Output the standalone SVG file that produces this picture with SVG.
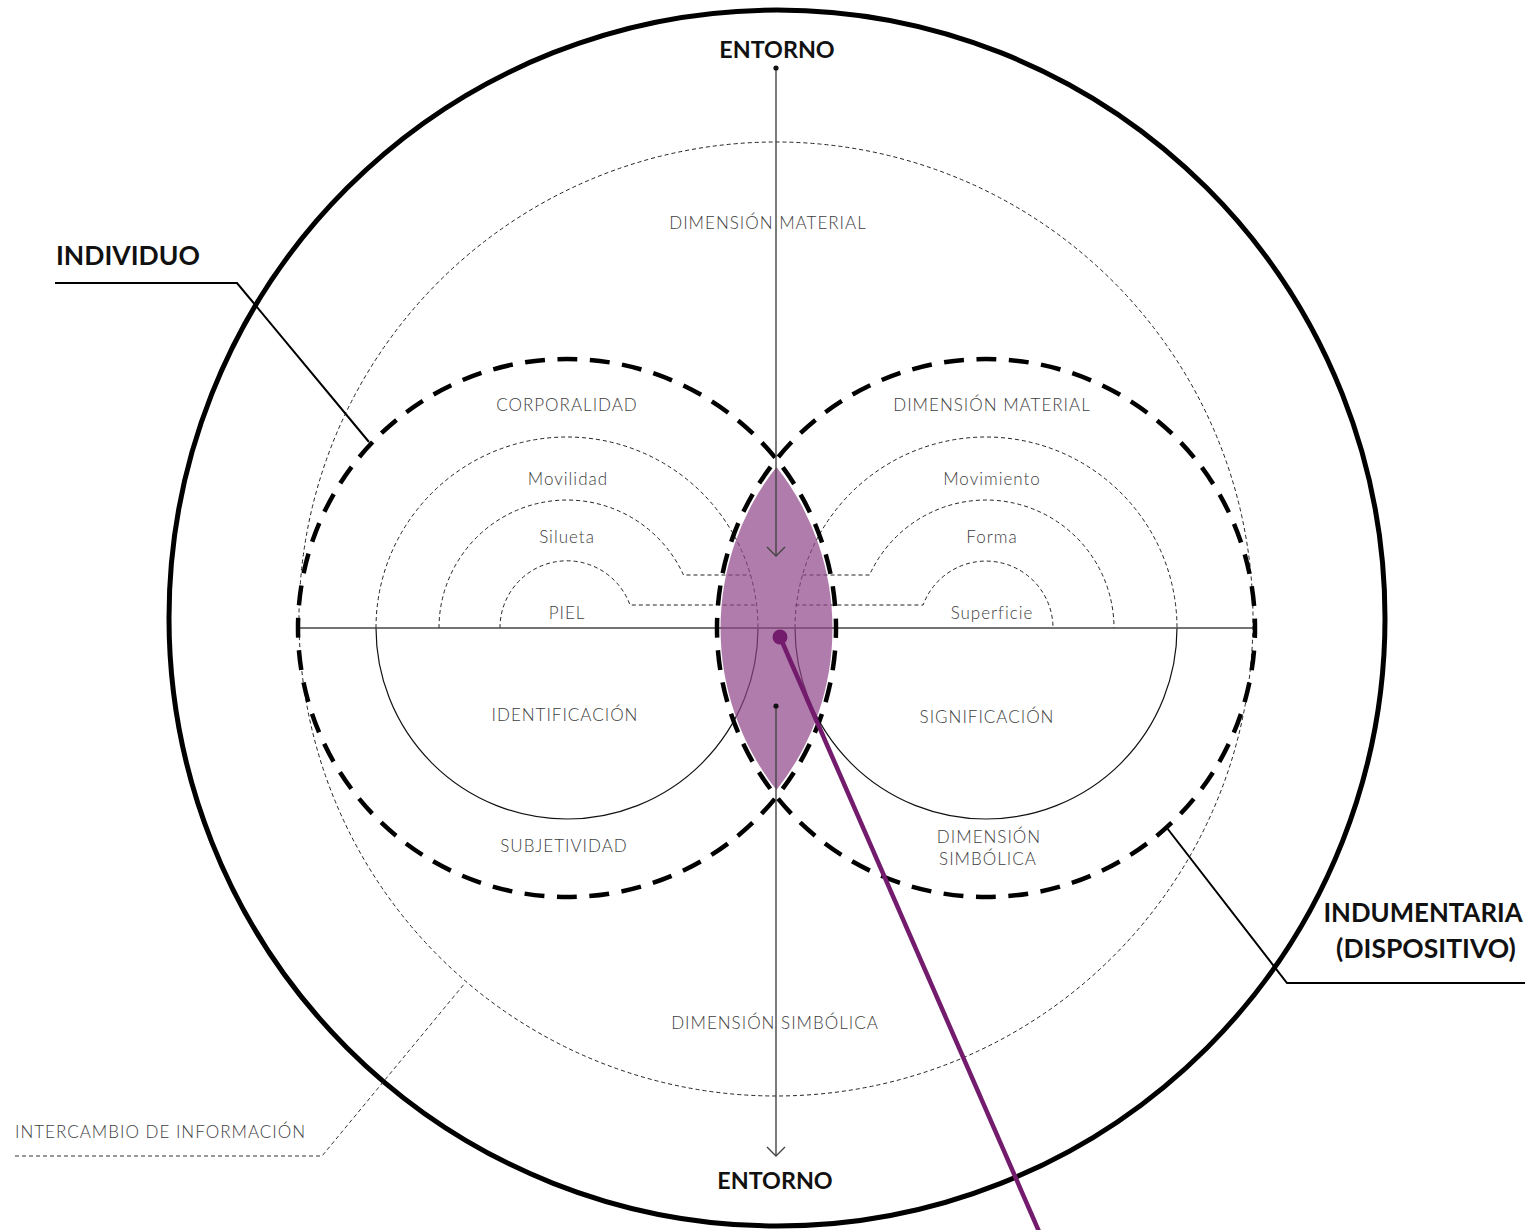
<svg xmlns="http://www.w3.org/2000/svg" width="1525" height="1230" viewBox="0 0 1525 1230">
<style>
.thin{fill:none;stroke:#222;stroke-width:1;stroke-dasharray:4 3}
.solid{fill:none;stroke:#111;stroke-width:1.2}
.axis{fill:none;stroke:#444;stroke-width:1.4}
.thick{fill:none;stroke:#000;stroke-width:4.5;stroke-dasharray:20 12.5;stroke-dashoffset:10}
.lbl{font-family:Lato,"Liberation Sans",sans-serif;font-weight:300;font-size:17px;letter-spacing:1px;fill:#3d3d3d}
.big{font-family:Lato,"Liberation Sans",sans-serif;font-weight:700;font-size:26.5px;fill:#111}
.lead{fill:none;stroke:#000;stroke-width:2}
</style>
<rect width="1525" height="1230" fill="#fff"/>
<g id="outer">
<circle cx="777" cy="618" r="608" fill="none" stroke="#000" stroke-width="5"/>
<circle cx="776" cy="619" r="477" class="thin"/>
</g>
<g id="individuo">
<path class="thin" d="M376,628 A191,191 0 0 1 758,628"/>
<path class="solid" d="M376,628 A191,191 0 0 0 758,628"/>
<path class="thin" d="M439,628 A128,128 0 0 1 683.5,575 L750.5,575"/>
<path class="thin" d="M500,628 A67,67 0 0 1 630,605 L756.6,605"/>
</g>
<g id="indumentaria">
<path class="thin" d="M795,628 A191,191 0 0 1 1177,628"/>
<path class="solid" d="M795,628 A191,191 0 0 0 1177,628"/>
<path class="thin" d="M802.5,575 L869.5,575 A128,128 0 0 1 1114,628"/>
<path class="thin" d="M795.4,605 L923.1,605 A67,67 0 0 1 1053,628"/>
</g>
<g id="connectors">
<line class="axis" x1="297" y1="628" x2="1255" y2="628"/>
<path d="M776.5,467 A261,261 0 0 0 776.5,790 A261,261 0 0 0 776.5,467 Z" fill="#8f4488" fill-opacity="0.7"/>
<circle cx="567" cy="628" r="269" class="thick"/>
<circle cx="986" cy="628" r="269" class="thick"/>
<line class="axis" x1="776" y1="68" x2="776" y2="556"/>
<polyline class="axis" points="767,547 776,556 785,547"/>
<circle cx="776" cy="68" r="2.6" fill="#111"/>
<line class="axis" x1="776" y1="706" x2="776" y2="1156"/>
<polyline class="axis" points="767,1147 776,1156 785,1147"/>
<circle cx="776" cy="706" r="2.6" fill="#111"/>
<line x1="780" y1="637" x2="1041" y2="1236" stroke="#731c6e" stroke-width="4.5"/>
<circle cx="780" cy="637" r="7.5" fill="#731c6e"/>
<polyline class="lead" points="55,283 237,283 369,442"/>
<polyline class="lead" points="1167,828 1287,983 1525,983"/>
<line class="lead" x1="1158" y1="835" x2="1171" y2="823"/>
<polyline fill="none" stroke="#333" stroke-width="1" stroke-dasharray="4 3" points="15,1156 322,1156 465,983"/>
</g>
<g id="labels">
<g text-anchor="middle">
<text class="big" x="777" y="58" style="font-size:23.3px">ENTORNO</text>
<text class="big" x="775" y="1189" style="font-size:23.3px">ENTORNO</text>
<text class="big" x="1423" y="922" style="font-size:25.8px">INDUMENTARIA</text>
<text class="big" x="1426" y="958">(DISPOSITIVO)</text>
<text class="lbl" x="768" y="229">DIMENSIÓN MATERIAL</text>
<text class="lbl" x="567" y="411">CORPORALIDAD</text>
<text class="lbl" x="568" y="485">Movilidad</text>
<text class="lbl" x="567" y="543">Silueta</text>
<text class="lbl" x="567" y="619">PIEL</text>
<text class="lbl" x="992" y="411">DIMENSIÓN MATERIAL</text>
<text class="lbl" x="992" y="485">Movimiento</text>
<text class="lbl" x="992" y="543">Forma</text>
<text class="lbl" x="992" y="619">Superficie</text>
<text class="lbl" x="565" y="721">IDENTIFICACIÓN</text>
<text class="lbl" x="987" y="723">SIGNIFICACIÓN</text>
<text class="lbl" x="564" y="852">SUBJETIVIDAD</text>
<text class="lbl" x="989" y="843">DIMENSIÓN</text>
<text class="lbl" x="988" y="865">SIMBÓLICA</text>
<text class="lbl" x="775" y="1029">DIMENSIÓN SIMBÓLICA</text>
</g>
<text class="big" x="56" y="265">INDIVIDUO</text>
<text class="lbl" x="15" y="1138">INTERCAMBIO DE INFORMACIÓN</text>
</g>
</svg>
